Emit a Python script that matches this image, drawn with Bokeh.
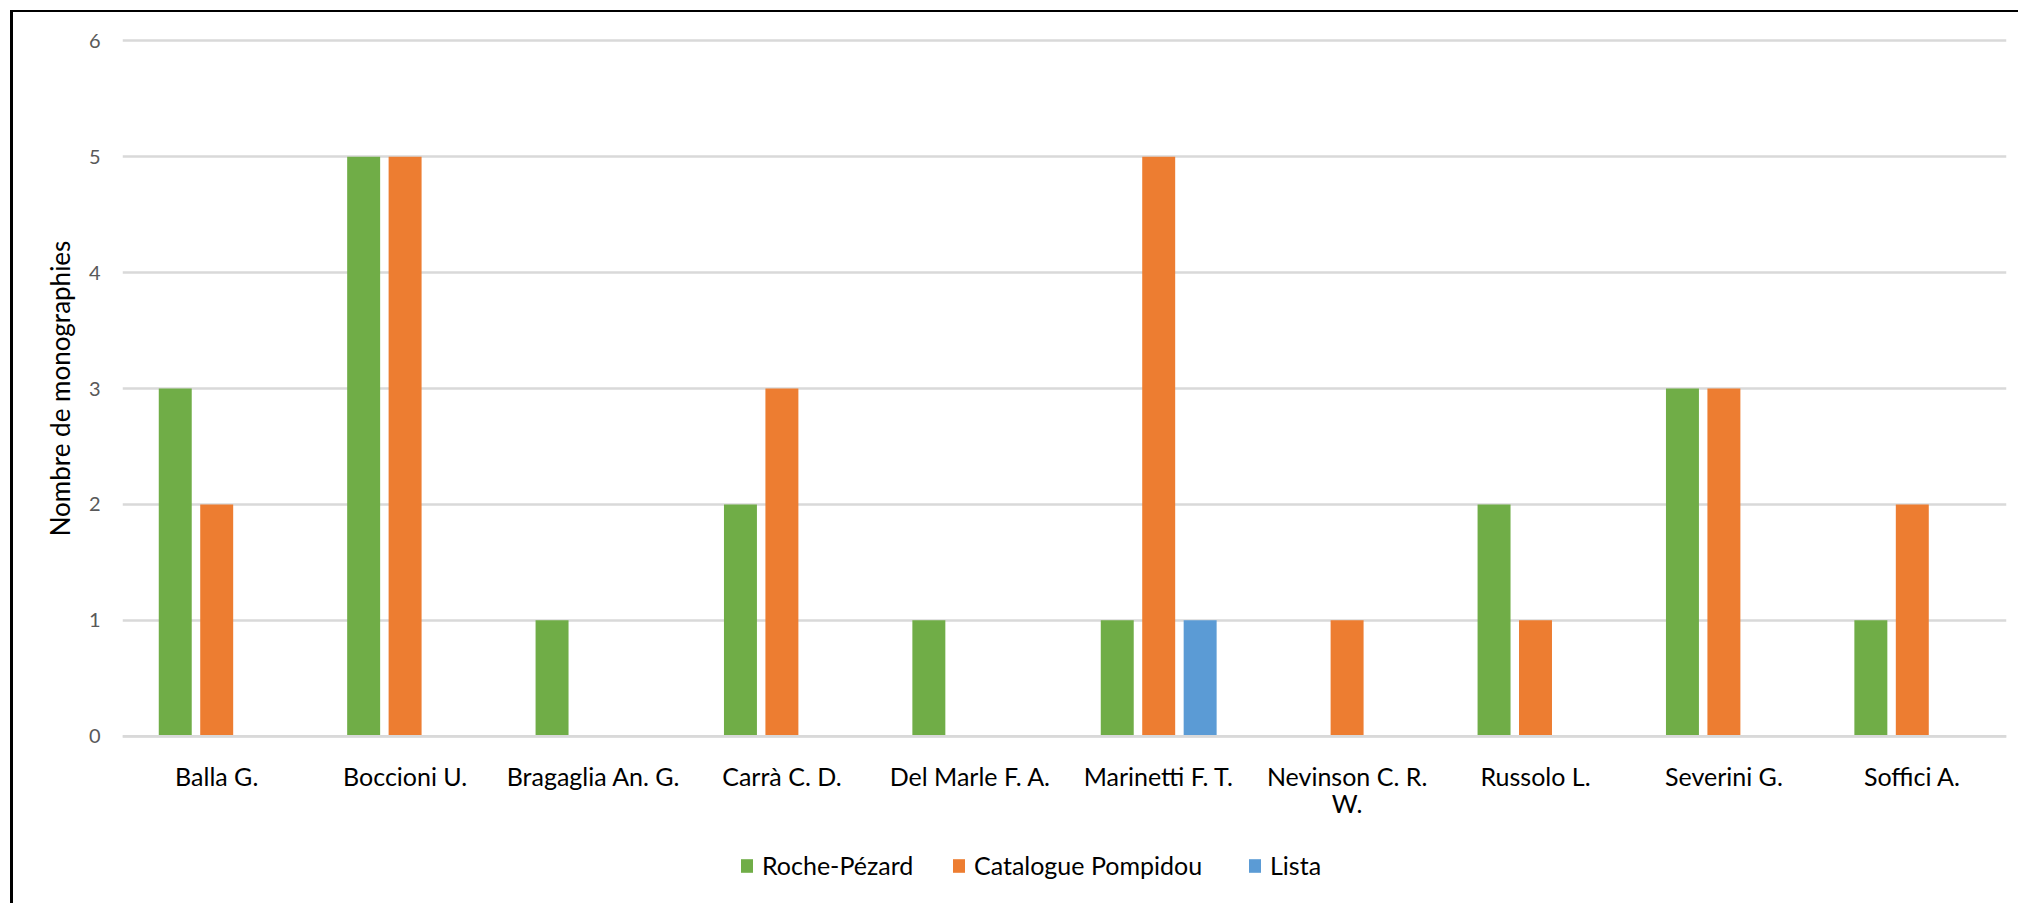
from bokeh.plotting import figure
from bokeh.layouts import column
from bokeh.models import (Range1d, FixedTicker, Legend, LegendItem, Span,
                          ColumnDataSource, LinearAxis)
from bokeh.transform import dodge
from bokeh.embed import file_html
from bokeh.resources import INLINE

# Monographs per futurist artist, by source
artists = ["Balla G.", "Boccioni U.", "Bragaglia An. G.", "Carrà C. D.", "Del Marle F. A.",
           "Marinetti F. T.", "Nevinson C. R. W.", "Russolo L.", "Severini G.", "Soffici A."]
roche_pezard = [3, 5, 1, 2, 1, 1, 0, 2, 3, 1]
catalogue_pompidou = [2, 5, 0, 3, 0, 5, 1, 1, 3, 2]
lista = [0, 0, 0, 0, 0, 1, 0, 0, 0, 0]

# long names split over two label lines
label_first_line = {"Nevinson C. R. W.": "Nevinson C. R."}
label_second_line = {"Nevinson C. R. W.": "W."}

series_names = ["Roche-Pézard", "Catalogue Pompidou", "Lista"]
series_colors = ["#70AD47", "#ED7D31", "#5B9BD5"]
y_ticks = [0, 1, 2, 3, 4, 5, 6]

FONT = "Lato"
W = 2005

positions = list(range(len(artists)))
source = ColumnDataSource(dict(pos=positions, rp=roche_pezard, cp=catalogue_pompidou, li=lista))

p = figure(
    x_range=Range1d(-0.5, len(artists) - 0.5),
    y_range=Range1d(-0.02, 6.02),
    width=W, height=830,
    output_backend="svg", toolbar_location=None,
    min_border_left=109, min_border_right=12, min_border_top=26, min_border_bottom=104,
    outline_line_color=None,
)

offsets = [-0.22, 0.0, 0.22]
cols = ["rp", "cp", "li"]
for col, off, color in zip(cols, offsets, series_colors):
    p.vbar(x=dodge("pos", off), top=col, bottom=0, width=0.175,
           source=source, fill_color=color, line_color=None)

# zero baseline drawn over the bars
p.add_layout(Span(location=0, dimension="width", line_color="#D9D9D9", line_width=2.5, level="overlay"))

p.xgrid.grid_line_color = None
p.ygrid.grid_line_color = "#D9D9D9"
p.ygrid.grid_line_width = 2.5
p.ygrid.ticker = FixedTicker(ticks=y_ticks)

# y axis
ya = p.yaxis[0]
ya.ticker = FixedTicker(ticks=y_ticks)
ya.axis_line_color = None
ya.major_tick_line_color = None
ya.minor_tick_line_color = None
ya.major_tick_out = 0
ya.major_label_standoff = 22
ya.major_label_text_font = FONT
ya.major_label_text_font_size = "20px"
ya.major_label_text_color = "#595959"
ya.axis_label = "Nombre de monographies"
ya.axis_label_text_font = FONT
ya.axis_label_text_font_size = "26px"
ya.axis_label_text_font_style = "normal"
ya.axis_label_text_color = "black"
ya.axis_label_standoff = 10


def style_x_axis(ax, standoff, labels):
    ax.ticker = FixedTicker(ticks=positions)
    ax.major_label_overrides = {i: t for i, t in zip(positions, labels)}
    ax.axis_line_color = None
    ax.major_tick_line_color = None
    ax.minor_tick_line_color = None
    ax.major_tick_out = 0
    ax.major_tick_in = 0
    ax.major_label_standoff = standoff
    ax.major_label_text_font = FONT
    ax.major_label_text_font_size = "25px"
    ax.major_label_text_color = "black"


# category names, first line
style_x_axis(p.xaxis[0], 22, [label_first_line.get(a, a) for a in artists])

# second line for wrapped names
xa2 = LinearAxis()
style_x_axis(xa2, -6, [label_second_line.get(a, "") for a in artists])
p.add_layout(xa2, "below")

# legend strip below the chart (its frame lines up with the chart's frame)
lg = figure(
    x_range=Range1d(0, 1), y_range=Range1d(0, 1),
    width=W, height=61,
    output_backend="svg", toolbar_location=None,
    min_border_left=109, min_border_right=12, min_border_top=0, min_border_bottom=0,
    outline_line_color=None,
)
lg.axis.visible = False
lg.grid.visible = False
# zero-height swatch bars: they only supply the legend glyphs
swatches = [lg.vbar(x=[0.5], top=[0], bottom=[0], width=0.1, fill_color=c, line_color=None)
            for c in series_colors]

# one entry per series, each placed along the strip
entry_x = [617, 829, 1125]
for name, r, x in zip(series_names, swatches, entry_x):
    lg.add_layout(Legend(
        items=[LegendItem(label=name, renderers=[r])],
        orientation="horizontal",
        location=(x, 23),
        border_line_color=None, background_fill_alpha=0,
        label_text_font=FONT, label_text_font_size="25px", label_text_color="black",
        glyph_width=15, glyph_height=17, label_standoff=8,
        padding=0, margin=0,
    ), "center")

page = column(p, lg, spacing=0)
page.styles = {"margin-left": "10px", "margin-top": "10px",
               "border-left": "3px solid black", "border-top": "2px solid black"}

open("out.html", "w").write(file_html(page, INLINE))
